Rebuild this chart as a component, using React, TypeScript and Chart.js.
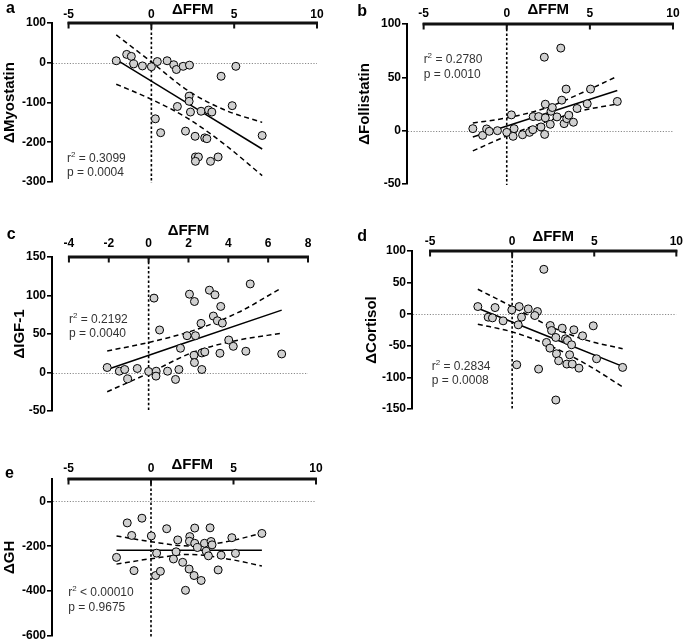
import React, { useEffect, useRef } from 'react';
import { Chart, registerables } from 'chart.js';
Chart.register(...registerables);

const FONT = "'Liberation Sans', Arial, Helvetica, sans-serif";

// ---------- Panel a : ΔMyostatin ----------
const aFFM = [-2.12, -1.49, -1.21, -1.07, -0.54, 0.0, 0.36, 0.95, 1.35, 1.51, 1.92, 2.3, 2.28, 2.28, 1.57, 2.36, 3.0, 3.45, 3.65, 4.21, 4.88, 5.1, 6.69, 0.24, 0.56, 2.06, 2.64, 3.22, 3.35, 2.66, 2.84, 2.66, 4.03, 3.57];
const aMyostatin = [5, 21, 16, -3, -8, -10, 3, 5, -5, -17, -9, -6, -84, -97, -110, -124, -122, -119, -124, -34, -108, -9, -183, -141, -176, -172, -185, -189, -191, -237, -237, -248, -237, -248];
const aFitX = [-2.12, 6.69];
const aFitY = [8, -217];
const aBandX = [-2.12, 0, 2.2, 4.5, 6.69];
const aUpper = [70, 2, -70, -120, -150];
const aLower = [-54, -92, -140, -208, -284];
const aXTicks = [-5, 0, 5, 10];
const aYTicks = [100, 0, -100, -200, -300];

// ---------- Panel b : ΔFollistatin ----------
const bFFM = [-2.04, -1.45, -1.21, -1.05, -0.56, 0.0, 0.28, 0.38, 0.44, 0.95, 1.37, 1.59, 1.57, 1.92, 2.06, 2.28, 2.32, 2.32, 2.26, 2.66, 2.74, 2.62, 3.02, 3.25, 3.31, 3.57, 3.45, 3.61, 3.73, 4.01, 4.23, 4.84, 5.04, 6.65];
const bFollistatin = [1.9, -4.4, 1.6, -0.6, 0, -1.6, 14.8, -5.3, 1.9, -3.8, -1.6, 13.2, 0.9, 13.2, 3.5, -3.5, 24.8, 12, 68.9, 18.2, 21.7, 6, 12.9, 77.4, 28.6, 39, 6.6, 11.3, 14.5, 7.9, 20.8, 25.2, 39, 27.4];
const bFitX = [-2.04, 6.65];
const bFitY = [-6, 37.7];
const bBandX = [-2.04, 0, 2.3, 4.6, 6.65];
const bUpper = [7.2, 12, 21, 36, 51];
const bLower = [-19, -5, 8, 19, 25];
const bXTicks = [-5, 0, 5, 10];
const bYTicks = [100, 50, 0, -50];

// ---------- Panel c : ΔIGF-1 ----------
const cFFM = [-2.08, -1.47, -1.2, -1.05, -0.57, 0, 0.27, 0.38, 0.37, 0.55, 0.95, 1.35, 1.52, 1.6, 1.93, 2.05, 2.3, 2.35, 2.28, 2.3, 2.63, 2.67, 2.82, 2.67, 3.05, 3.33, 3.25, 3.45, 3.62, 3.7, 3.58, 4.02, 4.25, 4.88, 5.1, 6.68];
const cIGF1 = [6.5, 1.7, 3.9, -8.2, 5.2, 1.3, 96.6, 1.7, -4.7, 55.2, 1.7, -9, 3.9, 31.5, 47.8, 101.7, 92.2, 47.8, 22.4, 12.9, 63.8, 25.4, 26.7, 3.9, 106.9, 100.9, 73.3, 67.2, 85.8, 64.2, 25, 42.2, 34, 27.6, 115, 24.1];
const cFitX = [-2.08, 6.68];
const cFitY = [4, 81];
const cBandX = [-2.08, 0, 2.3, 4.5, 6.68];
const cUpper = [28, 39, 55, 78, 110];
const cLower = [-25, -1, 27, 42, 51];
const cXTicks = [-4, -2, 0, 2, 4, 6, 8];
const cYTicks = [150, 100, 50, 0, -50];

// ---------- Panel d : ΔCortisol ----------
const dFFM = [-2.09, -1.46, -1.2, -1.04, -0.55, -0.02, 0.43, 0.57, 0.37, 0.28, 0.98, 1.54, 1.38, 1.61, 1.93, 2.32, 2.4, 2.09, 2.3, 2.66, 2.7, 2.83, 2.66, 3.05, 3.25, 3.37, 3.5, 3.33, 3.62, 3.66, 3.76, 4.07, 4.29, 4.94, 5.14, 6.73];
const dCortisol = [12.1, -4.7, -5.8, 10.5, -10.5, 6.8, 12.1, -4.7, -16.8, -80, 8.4, 4.2, -2.1, -86.8, 71, -17.9, -25.8, -44.7, -53.7, -36.8, -62.6, -73.7, -135.8, -22.1, -38.9, -41.6, -64.2, -78.9, -48.4, -78.9, -24.7, -85.3, -34.2, -18.4, -70.5, -84.2];
const dFitX = [-2.09, 6.73];
const dFitY = [9.5, -82.6];
const dBandX = [-2.09, 0, 2.3, 4.5, 6.73];
const dUpper = [39.5, 12, -19, -41, -54.7];
const dLower = [-15.8, -28, -50, -79, -115];
const dXTicks = [-5, 0, 5, 10];
const dYTicks = [100, 50, 0, -50, -100, -150];

// ---------- Panel e : ΔGH ----------
const eFFM = [-2.09, -1.44, -1.17, -1.03, -0.55, 0.02, 0.34, 0.28, 0.57, 0.95, 1.36, 1.52, 1.62, 1.92, 2.09, 2.31, 2.35, 2.33, 2.65, 2.65, 2.61, 2.81, 3.04, 3.24, 3.34, 3.48, 3.58, 3.64, 3.7, 4.07, 4.25, 4.9, 5.12, 6.72];
const eGH = [-250, -96, -152, -309, -75, -154, -231, -331, -312, -122, -257, -225, -172, -272, -397, -302, -157, -178, -119, -187, -331, -206, -353, -187, -222, -243, -118, -179, -194, -306, -240, -162, -232, -143];
const eFitX = [-2.09, 6.72];
const eFitY = [-218, -218];
const eBandX = [-2.09, 0, 2.3, 4.5, 6.72];
const eUpper = [-154, -180, -199, -181, -142];
const eLower = [-280, -256, -237, -255, -288];
const eXTicks = [-5, 0, 5, 10];
const eYTicks = [0, -200, -400, -600];

type Cfg = {
  letter: string; yTitle: string;
  xs: number[]; ys: number[]; fitX: number[]; fitY: number[];
  bandX: number[]; upper: number[]; lower: number[];
  xTicks: number[]; yTicks: number[];
  xMin: number; xMax: number; yMin: number; yMax: number;
  r2: string; p: string; statX: number; statY: number;
  box: { left: number; top: number; width: number; height: number };
  area: { left: number; top: number; right: number; bottom: number };
  yTitlePad: number; tickPad: number; titleGap: number; letterPos: [number, number];
};

const panels: Cfg[] = [
  {
    letter: 'a', yTitle: '\u0394Myostatin', xs: aFFM, ys: aMyostatin, fitX: aFitX, fitY: aFitY,
    bandX: aBandX, upper: aUpper, lower: aLower, xTicks: aXTicks, yTicks: aYTicks,
    xMin: -6, xMax: 10, yMin: -300, yMax: 100, r2: ' = 0.3099', p: 'p = 0.0004', statX: -5.1, statY: -249,
    box: { left: 0, top: 0, width: 342, height: 200 }, area: { left: 52, top: 23, right: 317, bottom: 182 },
    yTitlePad: 1, tickPad: 1.5, titleGap: 9.5, letterPos: [6, 12.7],
  },
  {
    letter: 'b', yTitle: '\u0394Follistatin', xs: bFFM, ys: bFollistatin, fitX: bFitX, fitY: bFitY,
    bandX: bBandX, upper: bUpper, lower: bLower, xTicks: bXTicks, yTicks: bYTicks,
    xMin: -6, xMax: 10, yMin: -50, yMax: 100, r2: ' = 0.2780', p: 'p = 0.0010', statX: -5, statY: 63,
    box: { left: 342, top: 0, width: 343, height: 200 }, area: { left: 65, top: 24, right: 331, bottom: 184 },
    yTitlePad: 14, tickPad: 3, titleGap: 10, letterPos: [15.3, 16],
  },
  {
    letter: 'c', yTitle: '\u0394IGF-1', xs: cFFM, ys: cIGF1, fitX: cFitX, fitY: cFitY,
    bandX: cBandX, upper: cUpper, lower: cLower, xTicks: cXTicks, yTicks: cYTicks,
    xMin: -4.85, xMax: 8, yMin: -50, yMax: 150, r2: ' = 0.2192', p: 'p = 0.0040', statX: -4, statY: 64.7,
    box: { left: 0, top: 200, width: 342, height: 222 }, area: { left: 52, top: 57, right: 308, bottom: 211 },
    yTitlePad: 11, tickPad: 6, titleGap: 22.5, letterPos: [6.7, 39.3],
  },
  {
    letter: 'd', yTitle: '\u0394Cortisol', xs: dFFM, ys: dCortisol, fitX: dFitX, fitY: dFitY,
    bandX: dBandX, upper: dUpper, lower: dLower, xTicks: dXTicks, yTicks: dYTicks,
    xMin: -6.1, xMax: 10, yMin: -150, yMax: 100, r2: ' = 0.2834', p: 'p = 0.0008', statX: -4.9, statY: -88,
    box: { left: 342, top: 200, width: 343, height: 222 }, area: { left: 70, top: 51, right: 335, bottom: 209 },
    yTitlePad: 20.7, tickPad: 2, titleGap: 10, letterPos: [15.3, 40.7],
  },
  {
    letter: 'e', yTitle: '\u0394GH', xs: eFFM, ys: eGH, fitX: eFitX, fitY: eFitY,
    bandX: eBandX, upper: eUpper, lower: eLower, xTicks: eXTicks, yTicks: eYTicks,
    xMin: -6, xMax: 10, yMin: -600, yMax: 100, r2: ' < 0.00010', p: 'p = 0.9675', statX: -5.02, statY: -424,
    box: { left: 0, top: 422, width: 342, height: 222 }, area: { left: 52, top: 57, right: 316, bottom: 216 },
    yTitlePad: 1, tickPad: 3, titleGap: 10.5, letterPos: [5, 56.3],
  },
];

function makeDecor(cfg: Cfg) {
  return {
    id: 'decor',
    beforeDatasetsDraw(chart: any) {
      const { ctx, chartArea, scales } = chart;
      const x = scales.x, y = scales.y;
      ctx.save();
      const y0 = Math.round(y.getPixelForValue(0)) + 0.5;
      ctx.strokeStyle = '#8a8a8a';
      ctx.lineWidth = 1;
      ctx.setLineDash([1.2, 1.6]);
      ctx.beginPath();
      ctx.moveTo(chartArea.left + 1, y0);
      ctx.lineTo(chartArea.right, y0);
      ctx.stroke();
      const x0 = x.getPixelForValue(0);
      ctx.strokeStyle = '#000';
      ctx.lineWidth = 1.6;
      ctx.setLineDash([2.5, 2.2]);
      ctx.beginPath();
      ctx.moveTo(x0, chartArea.top);
      ctx.lineTo(x0, chartArea.bottom + 1);
      ctx.stroke();
      ctx.restore();
    },
    afterDraw(chart: any) {
      const { ctx, chartArea, scales } = chart;
      const x = scales.x, y = scales.y;
      const f = x.getPixelForValue(cfg.xTicks[0]);
      const l = x.getPixelForValue(cfg.xTicks[cfg.xTicks.length - 1]);
      const top = chartArea.top;
      ctx.save();
      // top axis: 3px line with inward ticks
      ctx.fillStyle = '#111111';
      ctx.fillRect(f - 1, top - 1.5, l - f + 2, 3);
      for (let i = 0; i < cfg.xTicks.length; i++) {
        const px = x.getPixelForValue(cfg.xTicks[i]);
        ctx.fillRect(px - 1, top - 1, 2, 6.5);
      }
      ctx.fillStyle = '#000';
      ctx.font = `bold 15px ${FONT}`;
      ctx.textAlign = 'center';
      ctx.textBaseline = 'alphabetic';
      ctx.fillText('\u0394FFM', (f + l) / 2, top - cfg.titleGap);
      ctx.font = `bold 16px ${FONT}`;
      ctx.textAlign = 'left';
      ctx.fillText(cfg.letter, cfg.letterPos[0], cfg.letterPos[1]);
      const sx = x.getPixelForValue(cfg.statX);
      const sy = y.getPixelForValue(cfg.statY);
      ctx.fillStyle = '#333';
      ctx.font = `12px ${FONT}`;
      ctx.fillText('r', sx, sy);
      let w = ctx.measureText('r').width;
      ctx.font = `8px ${FONT}`;
      ctx.fillText('2', sx + w, sy - 5);
      w += ctx.measureText('2').width;
      ctx.font = `12px ${FONT}`;
      ctx.fillText(cfg.r2, sx + w, sy);
      ctx.fillText(cfg.p, sx, sy + 14.5);
      ctx.restore();
    },
  };
}

function Panel({ cfg }: { cfg: Cfg }) {
  const ref = useRef<HTMLCanvasElement>(null);
  useEffect(() => {
    if (!ref.current) return;
    const pts = cfg.xs.map((v, i) => ({ x: v, y: cfg.ys[i] }));
    const fit = cfg.fitX.map((v, i) => ({ x: v, y: cfg.fitY[i] }));
    const up = cfg.bandX.map((v, i) => ({ x: v, y: cfg.upper[i] }));
    const lo = cfg.bandX.map((v, i) => ({ x: v, y: cfg.lower[i] }));
    const lineDs = (data: any[], dash: number[]) => ({
      data, showLine: true, pointRadius: 0, borderColor: '#000', borderWidth: 1.5,
      borderDash: dash, cubicInterpolationMode: 'monotone', order: 1,
    });
    const chart = new Chart(ref.current, {
      type: 'scatter',
      data: {
        datasets: [
          { data: pts, pointRadius: 4, pointBackgroundColor: '#d0d0d0', pointBorderColor: '#000', pointBorderWidth: 1, order: 0 } as any,
          lineDs(fit, []),
          lineDs(up, [5, 3.5]),
          lineDs(lo, [5, 3.5]),
        ],
      },
      options: {
        animation: false,
        responsive: false,
        layout: { padding: { left: 0, top: 0, right: cfg.box.width - cfg.area.right, bottom: cfg.box.height - cfg.area.bottom } },
        plugins: { legend: { display: false }, tooltip: { enabled: false } },
        scales: {
          x: {
            type: 'linear', position: 'top', min: cfg.xMin, max: cfg.xMax,
            grid: { display: false, drawTicks: false },
            border: { display: false },
            ticks: { autoSkip: false, maxRotation: 0, padding: cfg.tickPad, color: '#000', font: { family: FONT, size: 12, weight: 'bold' } },
            afterBuildTicks: (s: any) => { s.ticks = cfg.xTicks.map((v) => ({ value: v })); },
            afterFit: (s: any) => { s.height = cfg.area.top; },
          },
          y: {
            type: 'linear', position: 'left', min: cfg.yMin, max: cfg.yMax,
            grid: { drawOnChartArea: false, drawTicks: true, tickLength: 5, color: '#000', lineWidth: 1.6 },
            border: { display: true, color: '#000', width: 2 },
            ticks: { autoSkip: false, padding: 1, color: '#000', font: { family: FONT, size: 12, weight: 'bold' } },
            title: { display: true, text: cfg.yTitle, color: '#000', font: { family: FONT, size: 15, weight: 'bold' }, padding: { top: cfg.yTitlePad, bottom: 0 } },
            afterBuildTicks: (s: any) => { s.ticks = cfg.yTicks.map((v) => ({ value: v })); },
            afterFit: (s: any) => { s.width = cfg.area.left; },
          },
        },
      } as any,
      plugins: [makeDecor(cfg)],
    });
    return () => chart.destroy();
  }, [cfg]);
  return (
    <canvas
      ref={ref}
      width={cfg.box.width}
      height={cfg.box.height}
      style={{ position: 'absolute', left: cfg.box.left, top: cfg.box.top }}
    />
  );
}

export default function App() {
  return (
    <div style={{ position: 'absolute', left: 0, top: 0, width: 685, height: 644, background: '#fff' }}>
      {panels.map((p) => (
        <Panel key={p.letter} cfg={p} />
      ))}
    </div>
  );
}
